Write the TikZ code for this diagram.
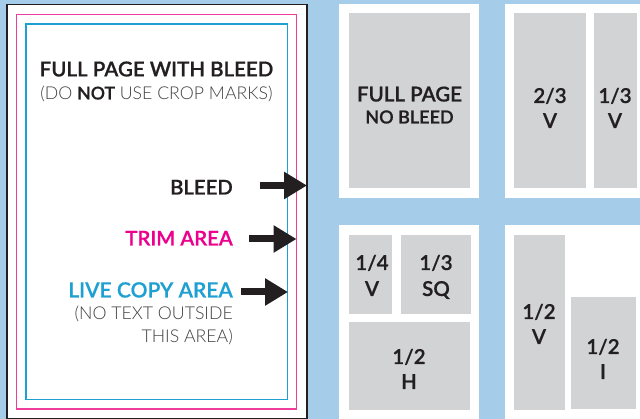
\documentclass[tikz,border=0pt]{standalone}
\usepackage{fontspec}
\setmainfont{Lato}
\newfontfamily\semi[FakeBold=0.7]{Lato Semibold}
\newfontfamily\lite{Lato Light}
\usetikzlibrary{arrows.meta}
\definecolor{skyb}{HTML}{A5CDE9}
\definecolor{greyp}{HTML}{D1D3D4}
\definecolor{inkk}{HTML}{231F20}
\definecolor{magn}{HTML}{EC008C}
\definecolor{trimline}{HTML}{EE3D9C}
\definecolor{cyann}{HTML}{1FA0D2}
\definecolor{softk}{HTML}{414042}
\tikzset{x=1pt,y=-1pt,
 panel/.style={fill=white,draw=none},
 grey/.style={fill=greyp,draw=none},
 lab/.style={inner sep=0pt,anchor=base,text=inkk,font=\fontsize{20.5}{20.5}\selectfont\semi},
 labr/.style={inner sep=0pt,anchor=base east,text=inkk,font=\fontsize{20.3}{20.3}\selectfont\semi},
 note/.style={inner sep=0pt,anchor=base east,text=softk,font=\fontsize{17.7}{17.7}\selectfont\lite},
 bigarrow/.style={draw=inkk,line width=7pt,-{Triangle[length=23pt,width=26pt,fill=inkk]},shorten >=0pt}}
\begin{document}
\begin{tikzpicture}
\useasboundingbox (0,0) rectangle (640,419);
\fill[skyb] (0,0) rectangle (640,419);
% page
\draw[fill=white,draw=inkk,line width=1.3pt] (7,4.7) rectangle (307,418.2);
\draw[trimline,line width=1.4pt] (16.5,14.3) rectangle (296.7,409.1);
\draw[cyann,line width=1.4pt] (26.1,24) rectangle (287.5,399.5);
% panels
\fill[panel] (339,4) rectangle (479,198);
\fill[panel] (505,4) rectangle (640,198);
\fill[panel] (339,225) rectangle (479,419);
\fill[panel] (505,225) rectangle (640,419);
% grey
\fill[grey] (349,13) rectangle (470,188);
\fill[grey] (514,13) rectangle (586,188);
\fill[grey] (594,13) rectangle (637,188);
\fill[grey] (349,235) rectangle (392,314);
\fill[grey] (401,235) rectangle (471,314);
\fill[grey] (349,322) rectangle (470,410);
\fill[grey] (514,235) rectangle (565,410);
\fill[grey] (571,297) rectangle (636,409);
% left texts
\node[lab] (t1) at (156.5,76.4) {FULL PAGE WITH BLEED};
\node[note,anchor=base] (t2) at (156.5,99.5) {(DO {\semi\color{inkk}NOT} USE CROP MARKS)};
\node[labr] (bleed) at (233,194.5) {BLEED};
\node[labr,text=magn] (trim) at (233,245.5) {TRIM AREA};
\node[labr,text=cyann,font=\fontsize{21}{21}\selectfont\semi] (live) at (233,297.5) {LIVE COPY AREA};
\node[note] (n1) at (233,319.5) {(NO TEXT OUTSIDE};
\node[note] (n2) at (233,342.5) {THIS AREA)};
% arrows
\coordinate (ab) at (260,185.5); \coordinate (abt) at (307,185.5);
\coordinate (at) at (249,239); \coordinate (att) at (296.5,239);
\coordinate (al) at (241,292); \coordinate (alt) at (288,292);
\draw[bigarrow] (ab) -- (abt);
\draw[bigarrow] (at) -- (att);
\draw[bigarrow] (al) -- (alt);
% grey labels
\node[lab] (g1) at (409.5,101.5) {FULL PAGE};
\node[lab,font=\fontsize{18}{18}\selectfont\semi] (g2) at (409.5,123.5) {NO BLEED};
\node[lab] (g3) at (550,103) {2/3};
\node[lab] (g4) at (550,128) {V};
\node[lab] (g5) at (615,103) {1/3};
\node[lab] (g6) at (615,128) {V};
\node[lab] (g7) at (372,270) {1/4};
\node[lab] (g8) at (372,296) {V};
\node[lab] (g9) at (436,270) {1/3};
\node[lab] (g10) at (436,296) {SQ};
\node[lab] (g11) at (409,364) {1/2};
\node[lab] (g12) at (409,389) {H};
\node[lab] (g13) at (539,319) {1/2};
\node[lab] (g14) at (539,344) {V};
\node[lab] (g15) at (603,354) {1/2};
\node[lab] (g16) at (603,379) {I};
\end{tikzpicture}
\end{document}
